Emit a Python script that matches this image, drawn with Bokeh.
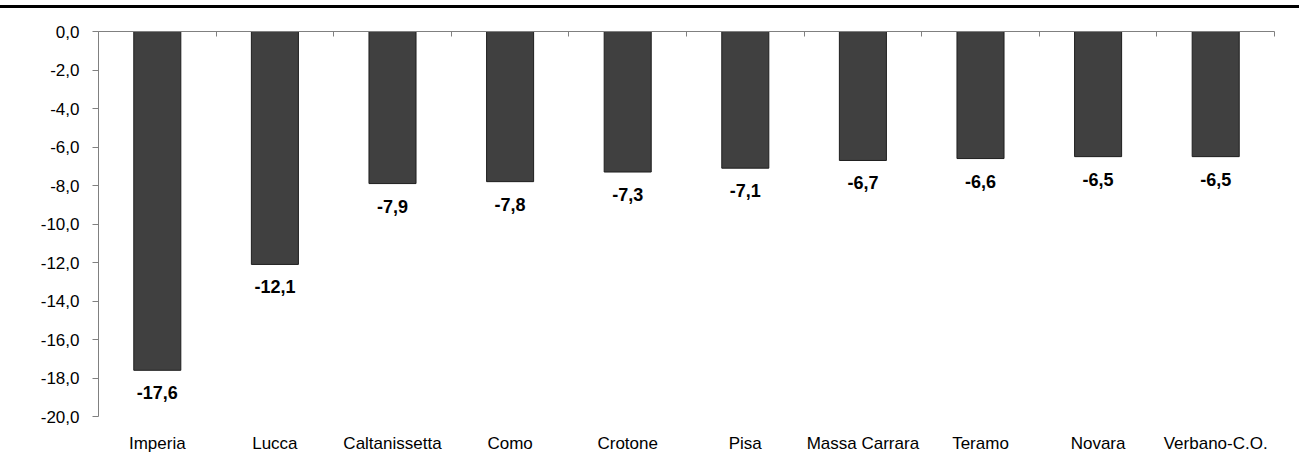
import numpy as np
from bokeh.plotting import figure
from bokeh.models import (ColumnDataSource, LinearAxis, Range1d,
                          FixedTicker, CustomJSTickFormatter, Div)
from bokeh.layouts import column
from bokeh.core.properties import value
from bokeh.embed import file_html
from bokeh.resources import INLINE

provinces = ["Imperia", "Lucca", "Caltanissetta", "Como", "Crotone",
             "Pisa", "Massa Carrara", "Teramo", "Novara", "Verbano-C.O."]
changes = [-17.6, -12.1, -7.9, -7.8, -7.3, -7.1, -6.7, -6.6, -6.5, -6.5]
y_ticks = [0, -2, -4, -6, -8, -10, -12, -14, -16, -18, -20]

n = len(provinces)
centers = np.arange(n) + 0.5
labels = [f"{v:.1f}".replace(".", ",") for v in changes]
src = ColumnDataSource(dict(x=centers, val=changes, lab=labels))

FONT = "Liberation Sans"
AXIS_GREY = "#808080"

p = figure(x_range=Range1d(0, n), y_range=Range1d(-20, 0),
           width=1299, height=451,
           min_border_left=98, min_border_right=25,
           min_border_top=23, min_border_bottom=43,
           output_backend="svg", toolbar_location=None,
           x_axis_location="below")
p.outline_line_color = None
p.grid.visible = False
p.background_fill_color = "white"
p.border_fill_color = "white"

p.vbar(x="x", top=0, bottom="val", width=0.4, source=src,
       fill_color="#404040", line_color="#1e1e1e", line_width=1)

p.text(x="x", y="val", text="lab", source=src,
       text_align="center", text_baseline="top", y_offset=16,
       text_font=value(FONT), text_font_style="bold",
       text_font_size="18px", text_color="black")

# province names along the bottom, without axis line or ticks
xa = p.xaxis[0]
xa.ticker = FixedTicker(ticks=list(centers))
xa.major_label_overrides = {float(c): name for c, name in zip(centers, provinces)}
xa.axis_line_color = None
xa.major_tick_line_color = None
xa.minor_tick_line_color = None
xa.major_label_standoff = 11
xa.major_label_text_font = FONT
xa.major_label_text_font_size = "17px"
xa.major_label_text_color = "black"

# value axis with comma decimals
ya = p.yaxis[0]
ya.ticker = FixedTicker(ticks=y_ticks)
ya.formatter = CustomJSTickFormatter(
    code="return tick.toFixed(1).replace('.', ',');")
ya.axis_line_color = AXIS_GREY
ya.major_tick_line_color = AXIS_GREY
ya.major_tick_in = 0
ya.major_tick_out = 6
ya.minor_tick_line_color = None
ya.major_label_standoff = 13
ya.major_label_text_font = FONT
ya.major_label_text_font_size = "17px"
ya.major_label_text_color = "black"

# zero line at the top with ticks between provinces
top_axis = LinearAxis(ticker=FixedTicker(ticks=list(range(n + 1))),
                      formatter=CustomJSTickFormatter(code="return '';"))
top_axis.axis_line_color = AXIS_GREY
top_axis.major_tick_line_color = AXIS_GREY
top_axis.major_tick_in = 5
top_axis.major_tick_out = 0
top_axis.minor_tick_line_color = None
top_axis.major_label_standoff = 0
p.add_layout(top_axis, "above")

# heavy rule across the top of the page
rule = Div(text="", width=1299, height=8, margin=0,
           styles={"background": "linear-gradient(to bottom, #ffffff 0px, #ffffff 5px, "
                                 "#000000 5px, #000000 8px)"})

layout = column(rule, p, spacing=0)
open("out.html", "w").write(file_html(layout, INLINE))
